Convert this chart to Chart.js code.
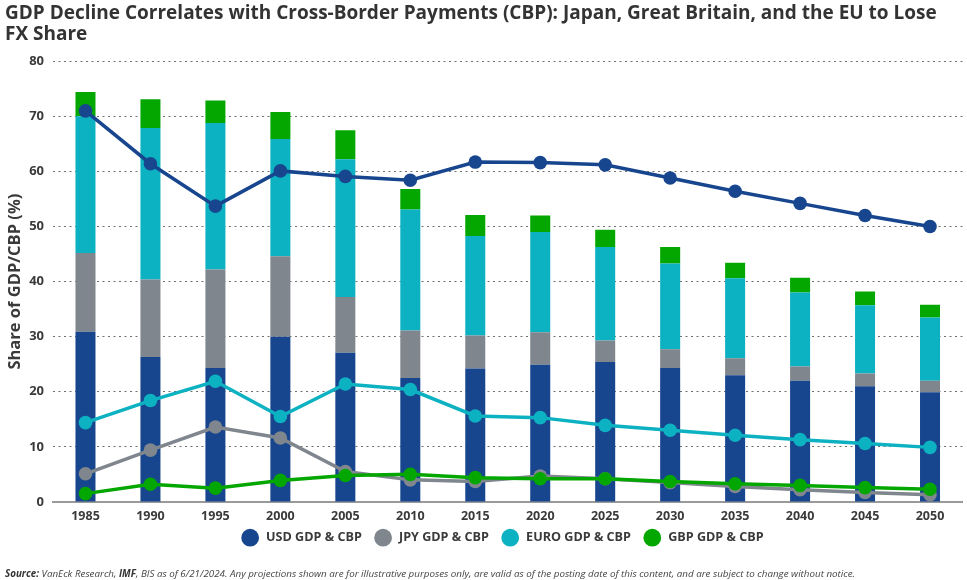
<!DOCTYPE html>
<html>
<head>
<meta charset="utf-8">
<title>GDP Decline Correlates with Cross-Border Payments</title>
<script src="https://cdn.jsdelivr.net/npm/chart.js@4"></script>
<style>
  html, body { margin: 0; padding: 0; background: #fff; }
  #wrap { position: relative; width: 967px; height: 580px; overflow: hidden; }
  #source {
    position: absolute; left: 5px; top: 567px; white-space: nowrap;
    font: italic 9.8px "Open Sans", sans-serif; color: #444;
  }
  #source b { color: #333; }
</style>
</head>
<body>
<div id="wrap">
  <canvas id="fxChart" width="967" height="580"></canvas>
  <div id="source"><b>Source:</b> VanEck Research, <b>IMF</b>, BIS as of 6/21/2024. Any projections shown are for illustrative purposes only, are valid as of the posting date of this content, and are subject to change without notice.</div>
</div>
<script>
const years = ['1985','1990','1995','2000','2005','2010','2015','2020','2025','2030','2035','2040','2045','2050'];

// stacked bars (segment sizes)
const usdBar  = [30.9,26.3,24.3,30.0,27.1,22.5,24.2,24.9,25.4,24.3,23.0,22.0,21.0,19.9];
const jpyBar  = [14.3,14.1,17.9,14.6,10.1,8.6,6.0,5.9,3.9,3.4,3.1,2.6,2.3,2.1];
const euroBar = [24.8,27.5,26.6,21.3,25.0,22.0,18.1,18.2,17.0,15.6,14.5,13.4,12.4,11.5];
const gbpBar  = [4.4,5.2,4.1,4.9,5.3,3.7,3.8,3.0,3.1,3.0,2.8,2.7,2.5,2.3];

// lines
const usdLine  = [71.0,61.4,53.7,60.1,59.1,58.4,61.7,61.6,61.2,58.8,56.4,54.2,52.0,50.0];
const jpyLine  = [5.1,9.4,13.6,11.6,5.5,4.0,3.7,4.7,4.2,3.5,2.8,2.2,1.7,1.3];
const euroLine = [14.4,18.4,21.9,15.5,21.4,20.4,15.6,15.3,13.9,13.0,12.1,11.3,10.6,9.9];
const gbpLine  = [1.5,3.2,2.5,3.9,4.8,5.0,4.4,4.2,4.2,3.7,3.3,3.0,2.6,2.3];

const BLUE = '#17468f', GRAY = '#7f868d', TEAL = '#0db2c2', GREEN = '#04a600';
const FONT = '"Open Sans", sans-serif';
const TEXT = '#3a3a3a';

function bar(label, data, color) {
    return { type: 'bar', label: label, data: data, backgroundColor: color, stack: 'fx', order: 10, barPercentage: 1, categoryPercentage: 0.308 };
}
function line(label, data, color, order) {
    return {
        type: 'line', label: label, data: data, borderColor: color, backgroundColor: color,
        borderWidth: 3.5, pointRadius: 6.8, pointHoverRadius: 6.8, pointBackgroundColor: color,
        pointBorderWidth: 0, tension: 0, order: order
    };
}

// nudge the legend closer to the axis without clipping the tick labels
const legendNudge = {
    id: 'legendNudge',
    afterLayout: function(chart) {
        chart.legend.top -= 6;
        chart.legend.bottom -= 6;
        chart.legend.left -= 4;
        chart.legend.right -= 4;
    }
};

new Chart(document.getElementById('fxChart').getContext('2d'), {
    plugins: [legendNudge],
    data: {
        labels: years,
        datasets: [
            line('USD GDP & CBP', usdLine, BLUE, 1),
            line('JPY GDP & CBP', jpyLine, GRAY, 3),
            line('EURO GDP & CBP', euroLine, TEAL, 2),
            line('GBP GDP & CBP', gbpLine, GREEN, 1),
            bar('USD bar', usdBar, BLUE),
            bar('JPY bar', jpyBar, GRAY),
            bar('EURO bar', euroBar, TEAL),
            bar('GBP bar', gbpBar, GREEN)
        ]
    },
    options: {
        responsive: false,
        animation: false,
        layout: { autoPadding: false, padding: { left: 5, right: 4.5, top: 0, bottom: 20 } },
        plugins: {
            title: {
                display: true,
                align: 'start',
                text: ['GDP Decline Correlates with Cross-Border Payments (CBP): Japan, Great Britain, and the EU to Lose', 'FX Share'],
                color: '#333',
                font: { family: FONT, size: 19, weight: '700', lineHeight: 1.06 },
                padding: { top: 4, bottom: 17 }
            },
            legend: {
                position: 'bottom',
                fullSize: false,
                labels: {
                    usePointStyle: true,
                    pointStyle: 'circle',
                    boxHeight: 13,
                    padding: 15,
                    color: TEXT,
                    font: { family: FONT, size: 12.6, weight: '700' },
                    sort: function(a, b) { return a.datasetIndex - b.datasetIndex; },
                    // only the line series go in the legend, nbsp widens the gap after the dot
                    generateLabels: function(chart) {
                        return Chart.defaults.plugins.legend.labels.generateLabels(chart)
                            .filter(function(item) { return item.text.indexOf('GDP') > 0; })
                            .map(function(item) { item.text = '\u00a0' + item.text; return item; });
                    }
                }
            },
            tooltip: { enabled: false }
        },
        scales: {
            x: {
                stacked: true,
                grid: { display: false, drawTicks: false },
                border: { color: '#9a9a9a', width: 2 },
                ticks: { color: TEXT, padding: 7, font: { family: FONT, size: 12.5, weight: '700' } },
                afterFit: function(axis) {
                    axis.height -= 8.5;
                    axis.paddingLeft = 0;
                    axis.paddingRight = 0;
                }
            },
            y: {
                min: 0, max: 80,
                grid: { color: '#6f6f6f', lineWidth: 1, drawTicks: false },
                border: { display: false, dash: [2, 3.5] },
                ticks: { stepSize: 10, color: TEXT, padding: 9, font: { family: FONT, size: 13, weight: '700' } },
                title: { display: true, text: 'Share of GDP/CBP (%)', color: TEXT, padding: { top: 0, bottom: 2 }, font: { family: FONT, size: 16.5, weight: '700' } },
                afterFit: function(axis) { axis.width = 48; }
            }
        }
    }
});
</script>
</body>
</html>
